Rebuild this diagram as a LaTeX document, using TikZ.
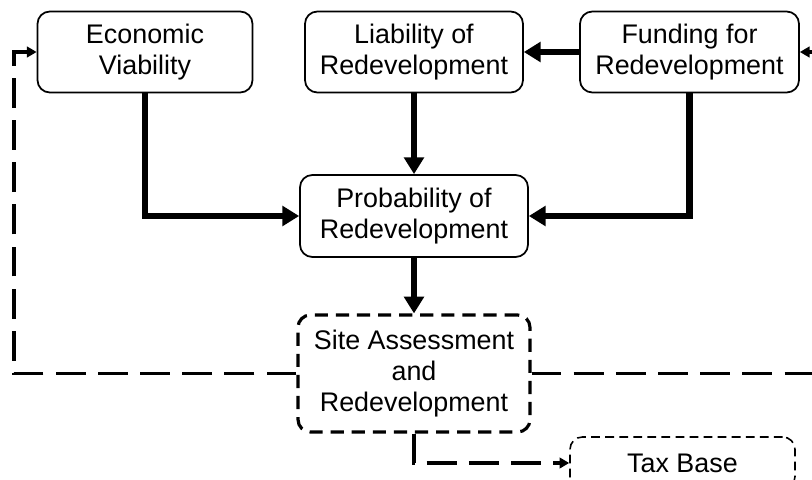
\documentclass[tikz,border=0pt]{standalone}
\usepackage{fontspec}
\setmainfont{Liberation Sans}
\usetikzlibrary{arrows.meta}

\tikzset{
  box/.style={draw, rounded corners=7pt, line width=1pt, align=center,
    inner sep=0pt, font=\fontsize{15.3}{17.6}\selectfont},
  sitebox/.style={box, line width=1.8pt, dash pattern=on 7.5pt off 4.5pt},
  taxbox/.style={box, line width=0.9pt, dash pattern=on 5pt off 3pt},
  flow/.style={line width=3.5pt, -{Triangle[length=9.5pt,width=11pt]}},
  loop/.style={line width=2.1pt, dash pattern=on 17pt off 7pt,
    -{Triangle[length=5.5pt,width=6pt]}}
}

\begin{document}
\begin{tikzpicture}[x=0.02cm, y=-0.02cm]
  \useasboundingbox (0,0) rectangle (812,480);
  \clip (0,0) rectangle (812,480);

  \node[box, minimum width=4.3cm, minimum height=1.62cm]   (econ) at (145,52)   {Economic\\Viability};
  \node[box, minimum width=4.36cm, minimum height=1.62cm]  (liab) at (414,52)   {Liability of\\Redevelopment};
  \node[box, minimum width=4.38cm, minimum height=1.62cm]  (fund) at (689.5,52) {Funding for\\Redevelopment};
  \node[box, minimum width=4.56cm, minimum height=1.64cm]  (prob) at (414,216)  {Probability of\\Redevelopment};
  \node[sitebox, minimum width=4.64cm, minimum height=2.34cm] (site) at (414,373.5) {Site Assessment\\and\\Redevelopment};
  \node[taxbox, minimum width=4.5cm, minimum height=1.04cm] (tax) at (682.5,463) {Tax Base};

  \coordinate (lft) at (14,0);
  \coordinate (rgt) at (830,0);

  % solid links
  \draw[flow] (fund) -- (liab);
  \draw[flow] (liab) -- (prob);
  \draw[flow] (econ) |- (prob);
  \draw[flow] (fund) |- (prob);
  \draw[flow] (prob) -- (site);

  % feedback
  \draw[loop] (site.west) -- (site.west -| lft) |- (econ.west);
  \draw[loop] (site.east) -- (site.east -| rgt) |- (fund.east);
  \draw[loop] (site.south) |- (tax.west);
\end{tikzpicture}
\end{document}
